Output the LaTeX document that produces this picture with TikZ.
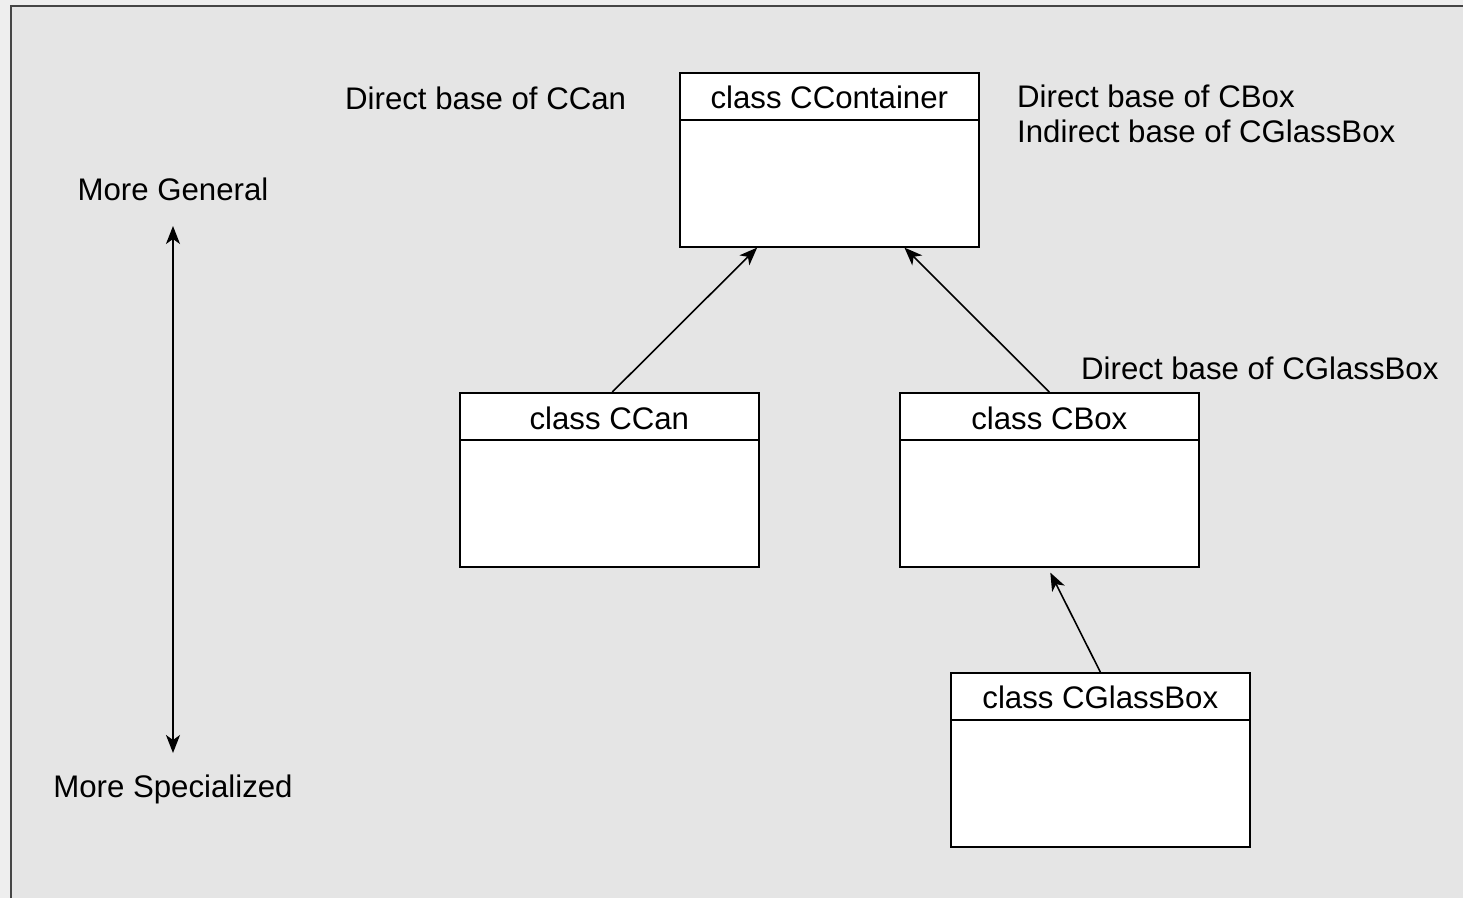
\documentclass[tikz,border=0pt]{standalone}
\usepackage{fontspec}
\setmainfont{Liberation Sans}
\usetikzlibrary{arrows.meta,calc}
\definecolor{panel}{HTML}{E5E5E5}
\definecolor{outer}{HTML}{EEEEEE}
\definecolor{frameline}{HTML}{454545}
\tikzset{
  x=1pt, y=-1pt,
  classbox/.style={draw=black, fill=white, line width=1.6pt, minimum width=299pt, minimum height=174pt, inner sep=0pt, anchor=north west},
  divider/.style={line width=1.6pt},
  title/.style={font=\fontsize{31.2}{37}\selectfont, inner sep=0pt},
  note/.style={font=\fontsize{31.2}{37}\selectfont, inner sep=0pt, align=left},
  inherit/.style={line width=1.6pt, -{Stealth[length=18pt,width=14pt,inset=5pt]}},
  scalearrow/.style={line width=1.6pt, {Stealth[length=18pt,width=14pt,inset=5pt]}-{Stealth[length=18pt,width=14pt,inset=5pt]}},
}
\begin{document}
\begin{tikzpicture}
  % page and panel
  \fill[outer] (0,0) rectangle (1463,898);
  \useasboundingbox (0,0) rectangle (1463,898);
  \fill[panel] (11,6) rectangle (1463,898);
  \draw[frameline, line width=2.2pt] (11,898) -- (11,6) -- (1463,6);

  % class boxes
  \node[classbox] (cont) at (679,72) {};
  \node[classbox] (ccan) at (459,392) {};
  \node[classbox] (cbox) at (899,392) {};
  \node[classbox] (glass) at (950,672) {};

  % header dividers and class names
  \foreach \b in {cont,ccan,cbox,glass}{
    \draw[divider] ($(\b.north west)+(0,48)$) -- ($(\b.north east)+(0,48)$);
  }
  \node[title] (contname) at ($(cont.north)+(0,25)$) {class CContainer};
  \node[title] (ccanname) at ($(ccan.north)+(0,26)$) {class CCan};
  \node[title] (cboxname) at ($(cbox.north)+(0,26)$) {class CBox};
  \node[title] (glassname) at ($(glass.north)+(0,25)$) {class CGlassBox};

  % inheritance arrows
  \draw[inherit] ($(ccan.north)+(3,0)$) -- ($(cont.south west)!0.26!(cont.south east)$);
  \draw[inherit] (cbox.north) -- ($(cont.south west)!0.75!(cont.south east)$);
  \draw[inherit] (glass.north) -- ($(cbox.south)+(1,5)$);

  % annotations
  \node[note, anchor=west] (ncan) at (345,98) {Direct base of CCan};
  \node[note, anchor=north west] (nbox) at (1017,85) {Direct base of CBox\\[-2pt]Indirect base of CGlassBox};
  \node[note, anchor=west] (nglass) at (1081,368) {Direct base of CGlassBox};

  % generality scale
  \node[note] (general) at (173,189) {More General};
  \node[note] (special) at (173,789) {More Specialized};
  \coordinate (gtop) at (173,226);
  \coordinate (gbot) at (173,753);
  \draw[scalearrow] (gtop) -- (gbot);
\end{tikzpicture}
\end{document}
